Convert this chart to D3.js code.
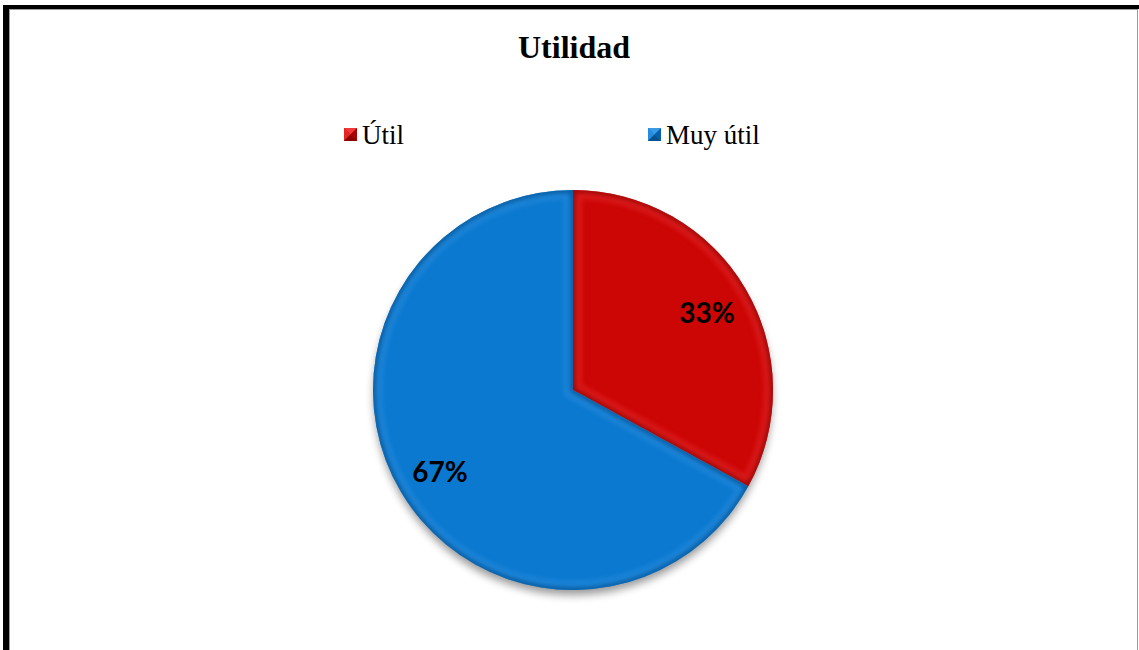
<!DOCTYPE html>
<html>
<head>
<meta charset="utf-8">
<script src="https://cdn.jsdelivr.net/npm/d3@7/dist/d3.min.js"></script>
<style>
  html, body { margin: 0; padding: 0; background: #fff; }
  svg { display: block; }
</style>
</head>
<body>
<svg id="chart" width="1139" height="650"></svg>
<script>
// Survey results: perceived usefulness
const title = "Utilidad";
const categories = ["Útil", "Muy útil"];
const values = [33, 67];
const colors = ["#cc0505", "#0b79d0"];
const darkColors = ["#8e0000", "#05508f"];
const lightColors = ["#f03a3a", "#3a9ae6"];

const W = 1139, H = 650;
const svg = d3.select("#chart");
const defs = svg.append("defs");

// Frame
svg.append("rect").attr("x", 0).attr("y", 0).attr("width", W).attr("height", H).attr("fill", "#fff");
svg.append("line").attr("x1", 3).attr("x2", W).attr("y1", 7).attr("y2", 7)
  .attr("stroke", "#000").attr("stroke-width", 4);
svg.append("line").attr("x1", 6).attr("x2", 6).attr("y1", 5).attr("y2", H)
  .attr("stroke", "#000").attr("stroke-width", 6);
svg.append("line").attr("x1", 9.5).attr("x2", 9.5).attr("y1", 9).attr("y2", H)
  .attr("stroke", "#9a9a9a").attr("stroke-width", 1);
svg.append("line").attr("x1", 9).attr("x2", W - 2).attr("y1", 9.5).attr("y2", 9.5)
  .attr("stroke", "#9a9a9a").attr("stroke-width", 1);
svg.append("line").attr("x1", W - 1.5).attr("x2", W - 1.5).attr("y1", 9).attr("y2", H)
  .attr("stroke", "#9a9a9a").attr("stroke-width", 1);

// Title
svg.append("text").attr("x", 574).attr("y", 58).attr("text-anchor", "middle")
  .attr("font-family", "'Liberation Serif', 'Times New Roman', serif")
  .attr("font-weight", "bold").attr("font-size", 32).attr("fill", "#000").text(title);

// Legend with bevelled swatches
const legendX = d3.scaleOrdinal().domain(categories).range([344, 648]);
const legend = svg.append("g").selectAll("g").data(categories).join("g")
  .attr("transform", d => `translate(${legendX(d)},128)`);
const s = 13;
legend.each(function(d, i) {
  const g = d3.select(this);
  g.append("rect").attr("width", s).attr("height", s).attr("fill", colors[i]);
  g.append("path").attr("d", `M0,0L${s},0L${s/2},${s/2}Z`).attr("fill", lightColors[i]);
  g.append("path").attr("d", `M0,0L0,${s}L${s/2},${s/2}Z`).attr("fill", lightColors[i]).attr("opacity", 0.6);
  g.append("path").attr("d", `M0,${s}L${s},${s}L${s/2},${s/2}Z`).attr("fill", darkColors[i]);
  g.append("path").attr("d", `M${s},0L${s},${s}L${s/2},${s/2}Z`).attr("fill", darkColors[i]).attr("opacity", 0.6);
  g.append("text").attr("x", s + 5).attr("y", 16)
    .attr("font-family", "'Liberation Serif', 'Times New Roman', serif")
    .attr("font-size", 27).attr("fill", "#000").text(d);
});

// Pie
const cx = 573, cy = 390, R = 200;
const pie = d3.pie().sort(null).value(d => d)(values);
const arc = d3.arc().innerRadius(0).outerRadius(R);

defs.append("filter").attr("id", "shadow").attr("x", "-20%").attr("y", "-20%").attr("width", "140%").attr("height", "140%")
  .append("feGaussianBlur").attr("stdDeviation", 4);
defs.append("filter").attr("id", "soft").attr("x", "-20%").attr("y", "-20%").attr("width", "140%").attr("height", "140%")
  .append("feGaussianBlur").attr("stdDeviation", 2.5);

const pg = svg.append("g").attr("transform", `translate(${cx},${cy})`);

// drop shadow beneath pie
pg.append("circle").attr("cx", 0).attr("cy", 6).attr("r", R - 1)
  .attr("fill", "#000").attr("opacity", 0.4).attr("filter", "url(#shadow)");

pie.forEach((p, i) => {
  defs.append("clipPath").attr("id", "clip" + i)
    .append("path").attr("d", arc(p));
  const g = pg.append("g");
  g.append("path").attr("d", arc(p)).attr("fill", colors[i]);
  const cl = g.append("g").attr("clip-path", `url(#clip${i})`);
  // light bevel band
  cl.append("path").attr("d", arc(p)).attr("fill", "none")
    .attr("stroke", lightColors[i]).attr("stroke-width", 18).attr("opacity", 0.4)
    .attr("filter", "url(#soft)");
  // dark outer rim
  cl.append("path").attr("d", arc(p)).attr("fill", "none")
    .attr("stroke", darkColors[i]).attr("stroke-width", 5).attr("opacity", 0.85)
    .attr("filter", "url(#soft)");
});

// Percentage labels
const labelPos = [[134, -77], [-133, 82]];
pg.selectAll("text.pct").data(pie).join("text").attr("class", "pct")
  .attr("x", (d, i) => labelPos[i][0]).attr("y", (d, i) => labelPos[i][1] + 10)
  .attr("text-anchor", "middle")
  .attr("font-family", "Lato, 'Open Sans', sans-serif").attr("font-weight", "bold")
  .attr("font-size", 28).attr("fill", "#000")
  .text(d => d.data + "%");
</script>
</body>
</html>
